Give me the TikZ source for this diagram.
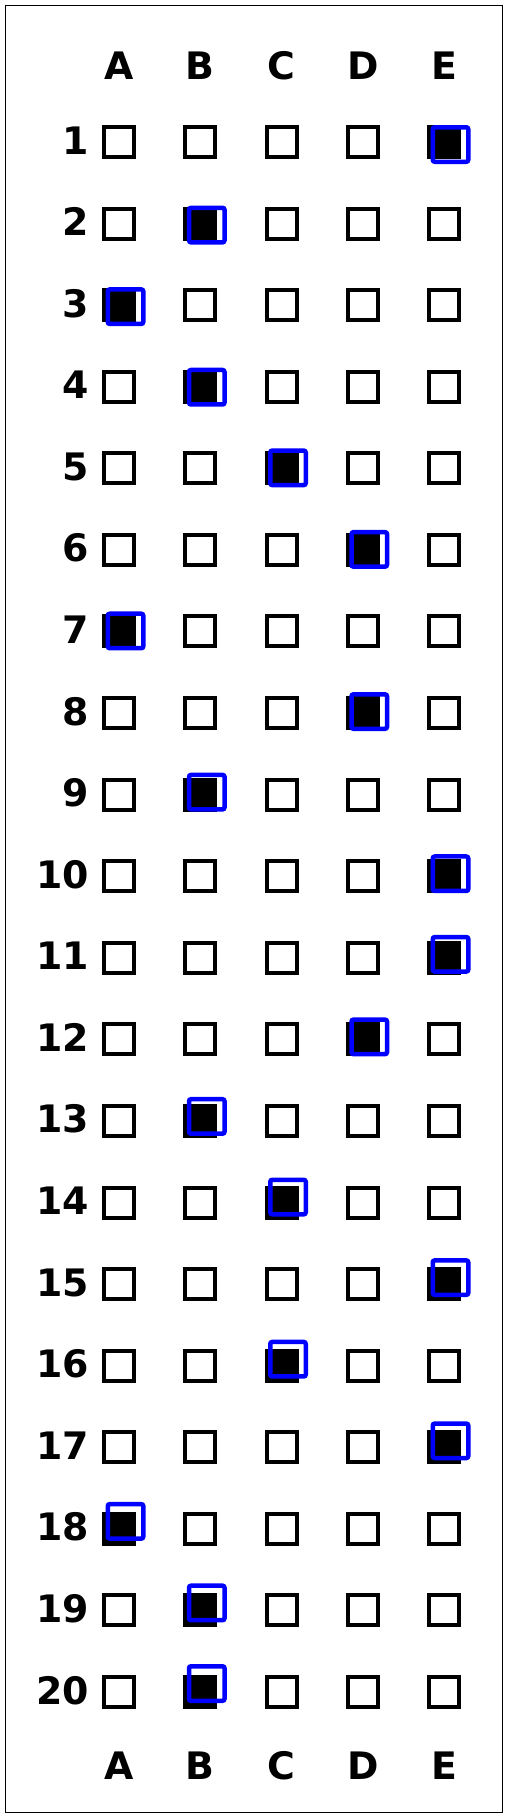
\documentclass[tikz,border=0pt]{standalone}
\usepackage{fontspec}
\setmainfont{DejaVu Sans}
\begin{document}
\begin{tikzpicture}[x=1bp,y=-1bp,
  lbl/.style={font=\bfseries\fontsize{38}{40}\selectfont, inner sep=0pt},
  cell/.style={draw=black, line width=4bp, minimum size=30bp, inner sep=0pt},
  filledcell/.style={cell, fill=black},
  answerbox/.style={draw=blue, line width=4.5bp, minimum width=35.5bp, minimum height=34.5bp, rounded corners=2bp, inner sep=0pt}]
\useasboundingbox (0,0) rectangle (508,1817);
\draw[line width=1bp] (5,5) rectangle (502,1812);
\foreach \L [count=\c] in {A,B,C,D,E} {
  \node[lbl, anchor=base] (top\c) at ({119+81.25*(\c-1)}, 79) {\L};
  \node[lbl, anchor=base] (bot\c) at ({119+81.25*(\c-1)}, 1779) {\L};
}
\foreach \r/\a/\dy in {1/5/0, 2/2/-1, 3/1/-1, 4/2/-2, 5/3/-3, 6/4/-3, 7/1/-3, 8/4/-4, 9/2/-5, 10/5/-5, 11/5/-6, 12/4/-5, 13/2/-7, 14/3/-8, 15/5/-9, 16/3/-9, 17/5/-9, 18/1/-10, 19/2/-10, 20/2/-11} {
  \node[lbl, anchor=base east] (n\r) at (89, {142+81.58*(\r-1)+12}) {\r};
  \foreach \c in {1,...,5} {
    \ifnum\c=\a\relax
      \node[filledcell] (c\r-\c) at ({119+81.25*(\c-1)}, {142+81.58*(\r-1)}) {};
    \else
      \node[cell] (c\r-\c) at ({119+81.25*(\c-1)}, {142+81.58*(\r-1)}) {};
    \fi
  }
  \node[answerbox] (m\r) at ({119+81.25*(\a-1)+6.5}, {142+81.58*(\r-1)+2.5+\dy}) {};
}
\end{tikzpicture}
\end{document}
